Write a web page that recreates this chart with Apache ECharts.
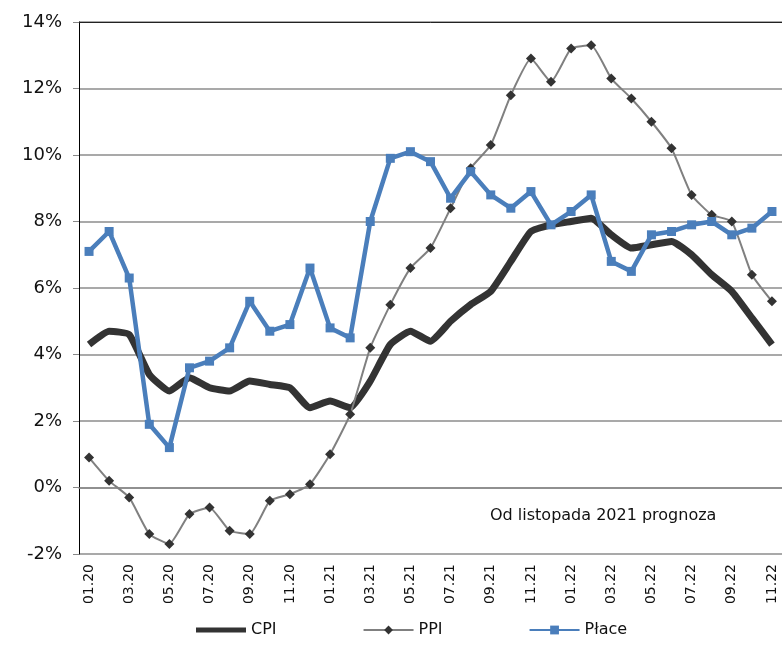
<!DOCTYPE html>
<html>
<head>
<meta charset="utf-8">
<script src="https://cdn.jsdelivr.net/npm/echarts@6/dist/echarts.min.js"></script>
<style>
  html, body { margin: 0; padding: 0; background: #fff; }
  #main { width: 782px; height: 645px; }
</style>
</head>
<body>
<div id="main"></div>
<script>
// miesiace 01.20 - 11.22
var months = ['01.20','02.20','03.20','04.20','05.20','06.20','07.20','08.20','09.20','10.20','11.20','12.20',
              '01.21','02.21','03.21','04.21','05.21','06.21','07.21','08.21','09.21','10.21','11.21','12.21',
              '01.22','02.22','03.22','04.22','05.22','06.22','07.22','08.22','09.22','10.22','11.22'];

var cpi   = [4.3, 4.7, 4.6, 3.4, 2.9, 3.3, 3.0, 2.9, 3.2, 3.1, 3.0, 2.4,
             2.6, 2.4, 3.2, 4.3, 4.7, 4.4, 5.0, 5.5, 5.9, 6.8, 7.7, 7.9,
             8.0, 8.1, 7.6, 7.2, 7.3, 7.4, 7.0, 6.4, 5.9, 5.1, 4.3];

var ppi   = [0.9, 0.2, -0.3, -1.4, -1.7, -0.8, -0.6, -1.3, -1.4, -0.4, -0.2, 0.1,
             1.0, 2.2, 4.2, 5.5, 6.6, 7.2, 8.4, 9.6, 10.3, 11.8, 12.9, 12.2,
             13.2, 13.3, 12.3, 11.7, 11.0, 10.2, 8.8, 8.2, 8.0, 6.4, 5.6];

var place = [7.1, 7.7, 6.3, 1.9, 1.2, 3.6, 3.8, 4.2, 5.6, 4.7, 4.9, 6.6,
             4.8, 4.5, 8.0, 9.9, 10.1, 9.8, 8.7, 9.5, 8.8, 8.4, 8.9, 7.9,
             8.3, 8.8, 6.8, 6.5, 7.6, 7.7, 7.9, 8.0, 7.6, 7.8, 8.3];

var font = 'DejaVu Sans, Verdana, sans-serif';

var myChart = echarts.init(document.getElementById('main'));

var option = {
    animation: false,
    backgroundColor: '#fff',
    grid: { left: 79, right: -6, top: 22, bottom: 91 },
    legend: {
        bottom: 2,
        left: 191,
        itemGap: 86,
        itemWidth: 50,
        itemHeight: 11,
        textStyle: { fontFamily: font, fontSize: 16, color: '#111' },
        data: [
            { name: 'CPI', icon: 'path://M0,0 L60,0 L60,6 L0,6 Z' },
            'PPI',
            'Płace'
        ]
    },
    xAxis: [{
        type: 'category',
        data: months,
        boundaryGap: true,
        axisLine: { lineStyle: { color: '#888', width: 1.5 } },
        axisTick: { show: false },
        axisLabel: { interval: 1, rotate: 90, margin: 10, fontFamily: font, fontSize: 14, color: '#111' }
    }, {
        type: 'category',
        data: months,
        position: 'top',
        axisLine: { lineStyle: { color: '#222', width: 1 } },
        axisTick: { show: false },
        axisLabel: { show: false }
    }],
    yAxis: {
        type: 'value',
        min: -2,
        max: 14,
        interval: 2,
        axisLine: { show: true, lineStyle: { color: '#000', width: 1 } },
        axisTick: { show: true, length: 6, lineStyle: { color: '#888' } },
        axisLabel: { margin: 17, fontFamily: font, fontSize: 18, color: '#111', formatter: '{value}%' },
        splitLine: { lineStyle: { color: '#8c8c8c', width: 1.5 } }
    },
    graphic: [{
        type: 'text',
        left: 490,
        top: 508,
        style: { text: 'Od listopada 2021 prognoza', font: '16px ' + font, fill: '#111' }
    }],
    series: [{
        name: 'CPI',
        type: 'line',
        data: cpi,
        smooth: 0.15,
        symbol: 'none',
        lineStyle: { color: '#333', width: 7 },
        itemStyle: { color: '#333' }
    }, {
        name: 'PPI',
        type: 'line',
        data: ppi,
        smooth: 0.15,
        symbol: 'diamond',
        symbolSize: 10,
        lineStyle: { color: '#808080', width: 2 },
        itemStyle: { color: '#333', borderWidth: 0 }
    }, {
        name: 'Płace',
        type: 'line',
        data: place,
        symbol: 'rect',
        symbolSize: 9,
        lineStyle: { color: '#4a7ebb', width: 4.5 },
        itemStyle: { color: '#4a7ebb', borderWidth: 0 }
    }]
};

myChart.setOption(option);
</script>
</body>
</html>
